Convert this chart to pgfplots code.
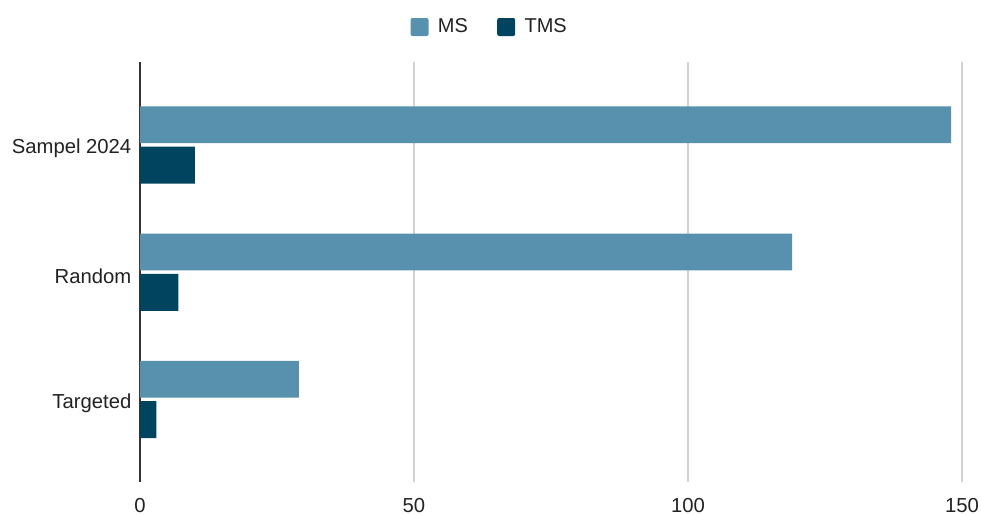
\documentclass[border=0pt]{standalone}
\usepackage{fontspec}
\setmainfont{Liberation Sans}
\usepackage{pgfplots}
\pgfplotsset{compat=1.18}
\definecolor{msblue}{HTML}{5891AD}
\definecolor{tmsblue}{HTML}{00445F}
\definecolor{txtgray}{HTML}{222222}
\begin{document}
\begin{tikzpicture}[x=1pt,y=1pt]
\useasboundingbox (-105,-24) rectangle (630.75,361.5);
\begin{axis}[
    at={(0,0)}, anchor=south west,
    scale only axis,
    width=616.5pt, height=315pt,
    xbar,
    xmin=0, xmax=150,
    ymin=-0.65, ymax=2.65,
    xtick={0,50,100,150},
    ytick={0,1,2},
    yticklabels={Targeted,Random,Sampel 2024},
    major tick length=0pt,
    axis line style={draw=none},
    xmajorgrids,
    grid style={draw=gray!35, line width=0.9pt},
    extra x ticks={0},
    extra x tick labels={},
    extra tick style={major grid style={draw=black!80, line width=0.9pt}},
    /pgf/number format/assume math mode=true,
    tick label style={font=\fontsize{15.2}{18}\selectfont, text=txtgray},
    xticklabel style={yshift=-9pt},
    yticklabel style={xshift=-3pt, yshift=-3pt},
    legend style={at={(0.4258,1.0833)}, anchor=center, draw=none,
        font=\fontsize{15}{18}\selectfont, text=txtgray,
        /tikz/every even column/.append style={column sep=20pt}},
    legend columns=2,
    legend image code/.code={\fill[#1,rounded corners=1.5pt] (0pt,-6.75pt) rectangle (13.5pt,6.75pt);},
]
\addplot[fill=msblue, draw=none, bar width=0.29, bar shift=0.157] coordinates {(148,2) (119,1) (29,0)};
\addlegendentry{\hspace{5pt}MS}
\addplot[fill=tmsblue, draw=none, bar width=0.29, bar shift=-0.16] coordinates {(10,2) (7,1) (3,0)};
\addlegendentry{\hspace{5pt}TMS}
\end{axis}
\end{tikzpicture}
\end{document}
